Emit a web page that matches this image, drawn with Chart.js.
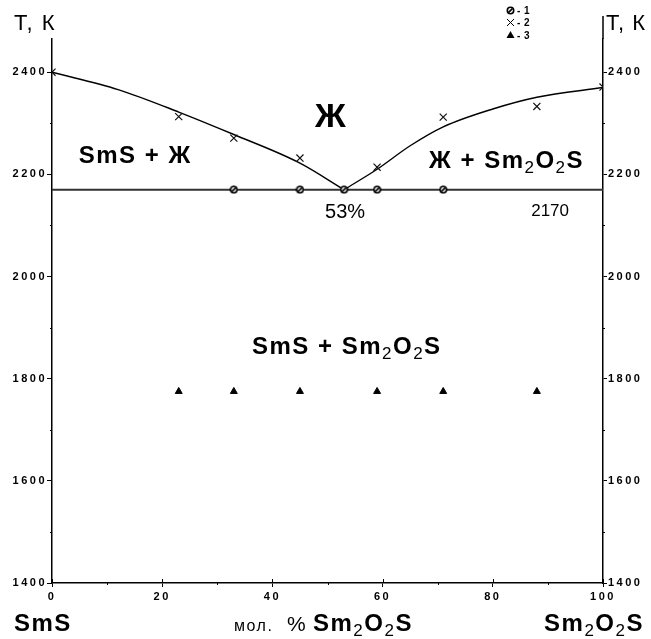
<!DOCTYPE html>
<html>
<head>
<meta charset="utf-8">
<script src="https://cdn.jsdelivr.net/npm/chart.js@4.4.0/dist/chart.umd.min.js"></script>
<style>
  body { margin: 0; background: #fff; }
  #wrap { width: 651px; height: 639px; }
</style>
</head>
<body>
<div id="wrap"><canvas id="phase"></canvas></div>
<script>
// mol. % Sm2O2S, temperature in K
var meltX = [33, 45, 53, 59, 71];
var meltT = [2170, 2170, 2170, 2170, 2170];
var liqX = [0, 23, 33, 45, 59, 71, 88, 100];
var liqT = [2400, 2313, 2271, 2232, 2214, 2312, 2333, 2371];
var solidX = [23, 33, 45, 59, 71, 88];
var solidT = [1775, 1775, 1775, 1775, 1775, 1775];

// liquidus curves
var leftCurveX = [0, 12, 23, 33, 45, 53];
var leftCurveT = [2400, 2366, 2322, 2278, 2222, 2170];
var rightCurveX = [53, 59, 65, 71, 80, 88, 100];
var rightCurveT = [2170, 2210, 2256, 2293, 2328, 2351, 2370];
var eutecticX = [0, 100];
var eutecticT = [2170, 2170];

var yTicks = [1400, 1600, 1800, 2000, 2200, 2400];
var xTicks = [0, 20, 40, 60, 80, 100];

function pts(xs, ys) {
  return xs.map(function (x, i) { return { x: x, y: ys[i] }; });
}

// circle with a slash, like the original marker
var dot = document.createElement('canvas');
dot.width = 9; dot.height = 9;
var d = dot.getContext('2d');
d.fillStyle = '#fff';
d.beginPath(); d.arc(4.5, 4.5, 3.2, 0, 2 * Math.PI); d.fill();
d.lineWidth = 1.6; d.strokeStyle = '#000'; d.stroke();
d.beginPath(); d.moveTo(2.6, 6.4); d.lineTo(6.4, 2.6); d.stroke();

var FONT = '"Liberation Sans", Arial, sans-serif';

// draws text with subscripts, parts = [text, size, bold, sub]
function rich(ctx, parts, x, y, align, spacing) {
  ctx.letterSpacing = (spacing || 0) + 'px';
  var w = 0;
  parts.forEach(function (p) {
    ctx.font = (p[2] ? 'bold ' : '') + p[1] + 'px ' + FONT;
    w += ctx.measureText(p[0]).width;
  });
  var cx = align === 'center' ? x - w / 2 : (align === 'right' ? x - w : x);
  ctx.textAlign = 'left';
  ctx.textBaseline = 'alphabetic';
  parts.forEach(function (p) {
    ctx.font = (p[2] ? 'bold ' : '') + p[1] + 'px ' + FONT;
    ctx.fillText(p[0], cx, y + (p[3] ? p[1] * 0.3 : 0));
    cx += ctx.measureText(p[0]).width;
  });
  ctx.letterSpacing = '0px';
}

function formula(big, small) {
  return [['Sm', big, true], ['2', small, false, true], ['O', big, true], ['2', small, false, true], ['S', big, true]];
}

var extras = {
  id: 'extras',
  beforeDraw: function (chart) { chart.ctx.letterSpacing = '2.5px'; },
  beforeDatasetsDraw: function (chart) { chart.ctx.letterSpacing = '0px'; },
  afterDraw: function (chart) {
    var ctx = chart.ctx;
    var xs = chart.scales.x, ys = chart.scales.y;
    var a = chart.chartArea;
    ctx.save();
    ctx.fillStyle = '#000';
    ctx.strokeStyle = '#000';
    ctx.lineWidth = 1;

    // minor ticks and inner halves of x ticks
    ctx.beginPath();
    for (var v = 10; v < 100; v += 20) {
      var px = Math.round(xs.getPixelForValue(v)) + 0.5;
      ctx.moveTo(px, a.bottom); ctx.lineTo(px, a.bottom + 2);
    }
    xTicks.forEach(function (t) {
      var px = Math.round(xs.getPixelForValue(t)) + 0.5;
      ctx.moveTo(px, a.bottom); ctx.lineTo(px, a.bottom - 4);
    });
    for (var t = 1500; t < 2400; t += 200) {
      var py = Math.round(ys.getPixelForValue(t)) + 0.5;
      ctx.moveTo(a.left, py); ctx.lineTo(a.left - 2, py);
      ctx.moveTo(a.right, py); ctx.lineTo(a.right + 2, py);
    }
    ctx.stroke();

    // right axis runs a bit higher
    ctx.lineWidth = 1.5;
    ctx.beginPath();
    ctx.moveTo(a.right, a.top); ctx.lineTo(a.right, 16);
    ctx.stroke();
    ctx.lineWidth = 1;

    function at(x, y) { return [xs.getPixelForValue(x), ys.getPixelForValue(y)]; }

    var p = at(50.5, 2318);
    rich(ctx, [['Ж', 34, true]], p[0], p[1] + 13, 'center');
    p = at(15.1, 2240);
    rich(ctx, [['SmS + Ж', 24, true]], p[0], p[1] + 9, 'center', 1.5);
    p = at(82.5, 2230);
    rich(ctx, [['Ж + ', 24, true]].concat(formula(24, 17)), p[0], p[1] + 9, 'center', 1.5);
    p = at(53.2, 2128);
    rich(ctx, [['53%', 20, false]], p[0], p[1] + 7, 'center');
    p = at(90.4, 2130);
    rich(ctx, [['2170', 17, false]], p[0], p[1] + 6, 'center');
    p = at(53.5, 1866);
    rich(ctx, [['SmS + ', 24, true]].concat(formula(24, 17)), p[0], p[1] + 9, 'center', 1.5);

    // axis captions
    rich(ctx, [['T, К', 22, false]], 14, 30, 'left', 1.5);
    rich(ctx, [['T, К', 22, false]], 606, 30, 'left', 1);
    rich(ctx, [['SmS', 24, true]], 14, 631, 'left', 1.5);
    rich(ctx, [['мол.', 16, false]], 234, 631, 'left', 1.5);
    rich(ctx, [['%', 21, false]], 287, 631, 'left');
    rich(ctx, formula(24, 17), 313, 631, 'left', 1.5);
    rich(ctx, formula(24, 17), 644, 631, 'right', 1.5);

    // legend
    ctx.drawImage(dot, 506, 6);
    ctx.beginPath();
    ctx.moveTo(507, 19); ctx.lineTo(514, 26);
    ctx.moveTo(514, 19); ctx.lineTo(507, 26);
    ctx.stroke();
    ctx.beginPath();
    ctx.moveTo(510.5, 31); ctx.lineTo(514.5, 38); ctx.lineTo(506.5, 38); ctx.closePath();
    ctx.fill();
    rich(ctx, [['- 1', 10, true]], 517, 14, 'left', 0.5);
    rich(ctx, [['- 2', 10, true]], 517, 26, 'left', 0.5);
    rich(ctx, [['- 3', 10, true]], 517, 39, 'left', 0.5);
    ctx.restore();
  }
};

var tickFont = { family: FONT, size: 11, weight: 'bold' };
function plain(v) { return String(v); }

var ctx = document.getElementById('phase').getContext('2d');

var myChart = new Chart(ctx, {
  type: 'scatter',
  data: {
    datasets: [{
      label: '1',
      data: pts(meltX, meltT),
      pointStyle: dot,
      order: 1
    }, {
      label: '2',
      data: pts(liqX, liqT),
      pointStyle: 'crossRot',
      pointRadius: 5,
      borderColor: '#111',
      borderWidth: 1.2,
      order: 1
    }, {
      label: '3',
      data: pts(solidX, solidT),
      pointStyle: 'triangle',
      pointRadius: 4,
      backgroundColor: '#000',
      borderColor: '#000',
      borderWidth: 1,
      order: 1
    }, {
      data: pts(leftCurveX, leftCurveT),
      showLine: true,
      pointRadius: 0,
      borderColor: '#000',
      borderWidth: 1.4,
      cubicInterpolationMode: 'monotone',
      order: 3
    }, {
      data: pts(rightCurveX, rightCurveT),
      showLine: true,
      pointRadius: 0,
      borderColor: '#000',
      borderWidth: 1.4,
      cubicInterpolationMode: 'monotone',
      order: 3
    }, {
      data: pts(eutecticX, eutecticT),
      showLine: true,
      pointRadius: 0,
      borderColor: '#333',
      borderWidth: 2,
      order: 3
    }]
  },
  options: {
    responsive: true,
    maintainAspectRatio: false,
    animation: false,
    layout: { padding: { top: 39 } },
    plugins: { legend: { display: false }, tooltip: { enabled: false } },
    scales: {
      x: {
        type: 'linear',
        min: 0, max: 100,
        afterFit: function (s) { s.height = 56; },
        afterBuildTicks: function (s) { s.ticks = xTicks.map(function (v) { return { value: v }; }); },
        grid: { drawOnChartArea: false, tickLength: 4, color: '#000' },
        border: { color: '#000', width: 1.5 },
        ticks: { color: '#000', font: tickFont, padding: 3, maxRotation: 0, callback: plain }
      },
      y: {
        type: 'linear',
        position: 'left',
        min: 1400, max: 2465,
        afterFit: function (s) { s.width = 52; },
        afterBuildTicks: function (s) { s.ticks = yTicks.map(function (v) { return { value: v }; }); },
        grid: { drawOnChartArea: false, tickLength: 5, color: '#000' },
        border: { color: '#000', width: 1.5 },
        ticks: { color: '#000', font: tickFont, padding: 0, callback: plain }
      },
      y2: {
        type: 'linear',
        position: 'right',
        min: 1400, max: 2465,
        afterFit: function (s) { s.width = 48; },
        afterBuildTicks: function (s) { s.ticks = yTicks.map(function (v) { return { value: v }; }); },
        grid: { drawOnChartArea: false, tickLength: 4, color: '#000' },
        border: { color: '#000', width: 1.5 },
        ticks: { color: '#000', font: tickFont, padding: 1, callback: plain }
      }
    }
  },
  plugins: [extras]
});
</script>
</body>
</html>
